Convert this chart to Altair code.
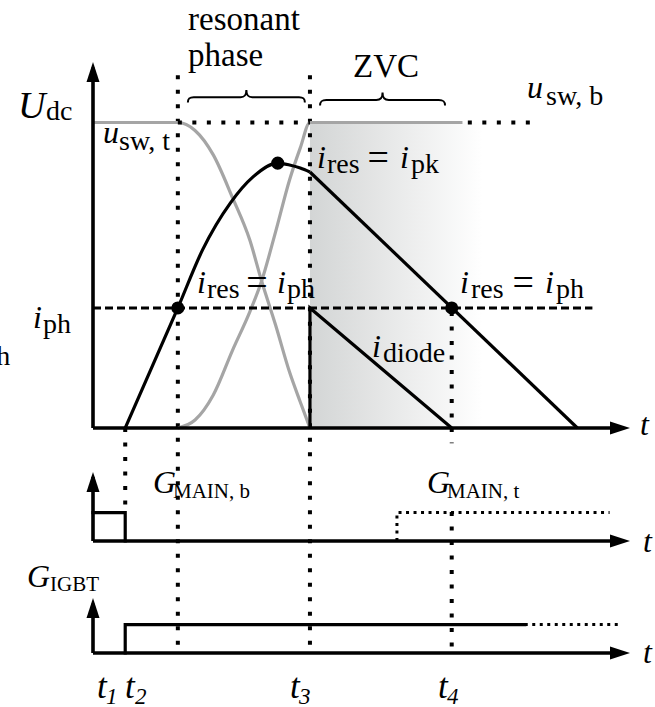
import altair as alt
import pandas as pd

# ---------------------------------------------------------------------------
# Waveforms of the resonant switching transition
# time in arbitrary units, voltages normalised to U_dc, currents on same scale
# ---------------------------------------------------------------------------
T_ON = 3.0        # t1/t2: bottom gate off, auxiliary IGBT on
T_RES = 7.9       # i_res reaches i_ph -> resonant phase starts
T3 = 20.2         # switch-node transition complete
T4 = 33.4         # i_res back to i_ph
T_MAIN_T = 28.3   # top main switch turned on
I_PH = 0.393
U_DC = 1.0

# switch-node voltage seen by the top switch (falls from U_dc to 0)
u_sw_t_time = [0.0, 7.9, 9.5, 11.2, 13.0, 14.6, 15.7, 17.0, 18.3, 19.3, 20.2]
u_sw_t_val = [1.0, 1.0, 0.974, 0.894, 0.753, 0.615, 0.481, 0.337, 0.183, 0.085, 0.0]

# switch-node voltage seen by the bottom switch (rises from 0 to U_dc)
u_sw_b_time = [7.9, 9.5, 11.2, 13.0, 14.6, 15.7, 17.0, 18.3, 19.3, 20.2, 34.4]
u_sw_b_val = [0.0, 0.026, 0.108, 0.255, 0.380, 0.481, 0.642, 0.812, 0.917, 1.0, 1.0]

# resonant inductor current: ramp + resonant arc, then linear decay
i_res_time = [3.0, 7.9, 10.2, 12.8, 14.9, 17.2, 18.3, 19.3, 20.2]
i_res_val = [0.0, 0.393, 0.583, 0.737, 0.822, 0.867, 0.861, 0.851, 0.838]
i_res_decay_time = [20.2, 45.1]
i_res_decay_val = [0.838, 0.0]
I_PK_TIME, I_PK = 17.2, 0.867

# diode current during zero-voltage clamping
i_diode_time = [20.2, 20.2, 33.4]
i_diode_val = [0.0, 0.393, 0.0]

# gate signals (logic levels)
g_main_b_time = [0.0, 3.0, 3.0]
g_main_b_lvl = [1, 1, 0]
g_main_t_time = [28.3, 28.3, 48.1]
g_main_t_lvl = [0, 1, 1]
g_igbt_time = [3.0, 3.0, 40.2]
g_igbt_lvl = [0, 1, 1]
g_igbt_cont_time = [40.2, 49.1]
g_igbt_cont_lvl = [1, 1]

# ---------------------------------------------------------------------------
# layout
# ---------------------------------------------------------------------------
X_DOM = [0, 50]
Y_DOM = [-0.75, 1.2]
PLOT_W = 537
PLOT_H = 595.7
MAIN_BASE, GMAIN_BASE, GIGBT_BASE = 0.0, -0.370, -0.7365
GATE_H = 0.093
GRAY = "#a5a5a5"
SERIF = "Liberation Serif"


def X(f="t"):
    return alt.X(f"{f}:Q", scale=alt.Scale(domain=X_DOM, nice=False, zero=False), axis=None)


def Y(f="v"):
    return alt.Y(f"{f}:Q", scale=alt.Scale(domain=Y_DOM, nice=False, zero=False), axis=None)


def series(ts, vs, base=0.0, scale=1.0):
    return pd.DataFrame({"t": ts, "v": [base + scale * v for v in vs], "i": range(len(ts))})


def line(df, color="black", width=3.0, dash=None, interp="linear", cap="square"):
    kw = dict(color=color, strokeWidth=width, interpolate=interp, strokeCap=cap, strokeJoin="miter")
    if dash:
        kw["strokeDash"] = dash
        kw["strokeCap"] = "butt"
    return alt.Chart(df).mark_line(**kw).encode(x=X(), y=Y(), order=alt.Order("i:Q"))


def segments(rows, color="black", width=3.0, dash=None):
    df = pd.DataFrame(rows, columns=["t0", "t1", "v0", "v1"])
    kw = dict(color=color, strokeWidth=width, strokeCap="butt")
    if dash:
        kw["strokeDash"] = dash
    return alt.Chart(df).mark_rule(**kw).encode(x=X("t0"), x2="t1:Q", y=Y("v0"), y2="v1:Q")


def text(rows, size, style="normal", font=SERIF):
    df = pd.DataFrame(rows, columns=["t", "v", "label"])
    return alt.Chart(df).mark_text(
        font=font, fontSize=size, fontStyle=style, align="left",
        baseline="alphabetic", color="black"
    ).encode(x=X(), y=Y(), text="label:N")


def symbols(rows, shape, size, stroke=None, width=0.0, filled=True):
    df = pd.DataFrame(rows, columns=["t", "v"])
    kw = dict(shape=shape, size=size, filled=filled, opacity=1)
    if filled:
        kw.update(color="black", strokeWidth=0)
    else:
        kw.update(color=stroke, strokeWidth=width)
    return alt.Chart(df).mark_point(**kw).encode(x=X(), y=Y())


layers = []

# shaded ZVC interval
shade = pd.DataFrame({"t0": [T3], "t1": [36.3], "v0": [0.0], "v1": [U_DC]})
layers.append(
    alt.Chart(shade).mark_rect(
        fill=alt.Gradient(
            gradient="linear",
            stops=[alt.GradientStop(color="#d3d5d5", offset=0),
                   alt.GradientStop(color="#ffffff", offset=1)],
            x1=0, x2=1, y1=0, y2=0),
        opacity=1, strokeWidth=0
    ).encode(x=X("t0"), x2="t1:Q", y=Y("v0"), y2="v1:Q")
)

# vertical time markers
layers.append(segments([
    (T_ON, T_ON, 0.0, -0.275),
    (T_RES, T_RES, 1.155, GIGBT_BASE),
    (T3, T3, 1.155, GIGBT_BASE),
    (T4, T4, 0.38, -0.05),
    (T4, T4, -0.275, GIGBT_BASE),
], width=4, dash=[4, 10.5]))

# switch-node voltages
layers.append(line(series(u_sw_t_time, u_sw_t_val), color=GRAY, width=3.2, interp="monotone", cap="butt"))
layers.append(line(series(u_sw_b_time, u_sw_b_val), color=GRAY, width=3.2, interp="monotone", cap="butt"))

# U_dc reference (dotted) and i_ph level (dashed)
layers.append(segments([(T_RES, T3, U_DC, U_DC), (34.9, 40.7, U_DC, U_DC)], width=4, dash=[4, 10.5]))
layers.append(segments([(0.0, 46.5, I_PH, I_PH)], width=3, dash=[8, 4]))

# currents
layers.append(line(series(i_res_time, i_res_val), width=3.2, interp="monotone", cap="butt"))
layers.append(line(series(i_res_decay_time, i_res_decay_val), width=3.2, cap="butt"))
layers.append(line(series(i_diode_time, i_diode_val), width=3.2, cap="butt"))

# gate signals
layers.append(line(series(g_main_b_time, g_main_b_lvl, GMAIN_BASE, GATE_H), width=3.2))
layers.append(line(series(g_main_t_time, g_main_t_lvl, GMAIN_BASE, GATE_H), width=3, dash=[3, 4.5]))
layers.append(line(series(g_igbt_time, g_igbt_lvl, GIGBT_BASE, GATE_H), width=3.2))
layers.append(line(series(g_igbt_cont_time, g_igbt_cont_lvl, GIGBT_BASE, GATE_H), width=3, dash=[3, 4.5]))

# axes
layers.append(segments([
    (0.0, 0.0, MAIN_BASE, 1.18),
    (0.0, 49.0, MAIN_BASE, MAIN_BASE),
    (0.0, 0.0, GMAIN_BASE, -0.16),
    (0.0, 49.0, GMAIN_BASE, GMAIN_BASE),
    (0.0, 0.0, GIGBT_BASE, -0.575),
    (0.0, 49.0, GIGBT_BASE, GIGBT_BASE),
], width=3.6))

ARROW_UP = "M0,0L-0.65,2L0.65,2Z"
ARROW_RIGHT = "M0,0L-2,-0.65L-2,0.65Z"
layers.append(symbols([(0.0, 1.198), (0.0, -0.144), (0.0, -0.5565)], ARROW_UP, 400))
layers.append(symbols([(50.0, MAIN_BASE), (50.0, GMAIN_BASE), (50.0, GIGBT_BASE)], ARROW_RIGHT, 400))

# marked operating points
pts = pd.DataFrame({"t": [T_RES, I_PK_TIME, T4], "v": [I_PH, I_PK, I_PH]})
layers.append(alt.Chart(pts).mark_point(shape="circle", size=170, filled=True, color="black", opacity=1,
                                        strokeWidth=0).encode(x=X(), y=Y()))

# braces over the resonant phase and the ZVC interval
BRACE = ("M-1,0.09 C-1,0.02 -0.97,0 -0.9,0 L-0.1,0 C-0.03,0 0,-0.03 0,-0.12 "
         "C0,-0.03 0.03,0 0.1,0 L0.9,0 C0.97,0 1,0.02 1,0.09")
layers.append(symbols([(14.28, 1.083)], BRACE, 117 ** 2, stroke="black", width=2.0, filled=False))
layers.append(symbols([(26.96, 1.074)], BRACE, 125 ** 2, stroke="black", width=2.0, filled=False))

# ---------------- labels ----------------
layers.append(text([(8.85, 1.303, "resonant"), (8.85, 1.185, "phase"), (24.21, 1.149, "ZVC")], 33))
layers.append(text([(-6.98, 1.015, "U")], 38, "italic"))
layers.append(text([
    (0.93, 0.933, "u"), (40.41, 1.080, "u"),
    (20.86, 0.851, "i"), (28.58, 0.851, "i"),
    (9.69, 0.442, "i"), (17.13, 0.442, "i"),
    (34.17, 0.442, "i"), (42.08, 0.442, "i"),
    (25.98, 0.232, "i"), (-5.59, 0.327, "i"),
], 32, "italic"))
layers.append(text([
    (-4.38, 1.008, "dc"), (2.42, 0.910, "sw, t"), (42.18, 1.057, "sw, b"),
    (21.79, 0.835, "res"), (29.61, 0.835, "pk"),
    (10.61, 0.425, "res"), (18.06, 0.425, "ph"),
    (35.20, 0.425, "res"), (43.11, 0.425, "ph"),
    (27.0, 0.216, "diode"), (-4.66, 0.311, "ph"),
    (-9.0, 0.206, "h"),
], 28))
layers.append(text([(25.55, 0.845, "="), (14.28, 0.436, "="), (39.05, 0.436, "=")], 38))
layers.append(text([(50.93, -0.023, "t"), (51.21, -0.406, "t"), (51.21, -0.769, "t")], 32, "italic"))

layers.append(text([(5.59, -0.213, "G"), (31.10, -0.213, "G"), (-6.15, -0.520, "G")], 32, "italic"))
layers.append(text([(7.45, -0.229, "MAIN, b"), (32.96, -0.229, "MAIN, t"), (-4.00, -0.534, "IGBT")], 21))
layers.append(text([(0.37, -0.884, "t"), (2.98, -0.884, "t"), (18.34, -0.884, "t"), (32.12, -0.884, "t")],
                   35, "italic"))
layers.append(text([(1.21, -0.903, "1"), (3.91, -0.903, "2"), (19.18, -0.903, "3"), (32.96, -0.903, "4")],
                   23, "italic"))

chart = alt.layer(*layers).properties(
    width=PLOT_W,
    height=PLOT_H,
    autosize=alt.AutoSizeParams(type="none"),
    padding={"left": 93, "top": 61.4, "right": 25, "bottom": 49.9},
    background="white",
).configure_view(stroke=None)

chart.save("out.html", embed_options={"renderer": "svg", "actions": False})
